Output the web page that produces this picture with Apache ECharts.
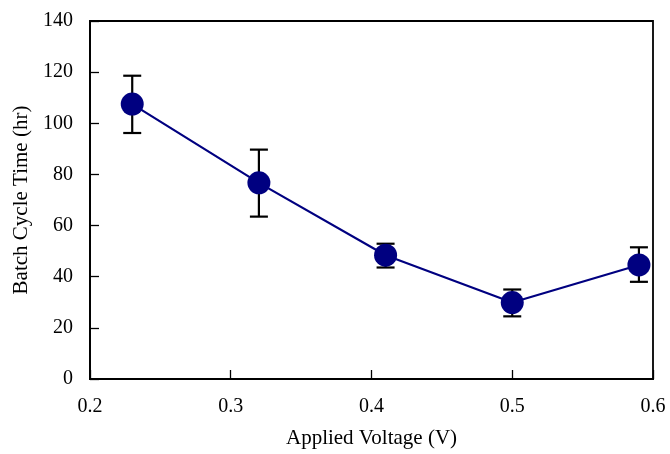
<!DOCTYPE html>
<html>
<head>
<meta charset="utf-8">
<script src="https://cdn.jsdelivr.net/npm/echarts@6/dist/echarts.min.js"></script>
<style>
  html, body { margin: 0; padding: 0; background: #fff; }
  #chart { width: 670px; height: 454px; }
</style>
</head>
<body>
<div id="chart"></div>
<script>
// Applied voltage (V) and measured batch cycle time (hr)
const voltages = [0.23, 0.32, 0.41, 0.50, 0.59];
const cycleTime = [107.5, 76.7, 48.4, 29.9, 44.6];
const errLow = [96.2, 63.5, 43.6, 24.5, 38.0];
const errHigh = [118.6, 89.7, 52.9, 35.0, 51.5];

const FONT = '"Liberation Serif", "Times New Roman", serif';

const points = voltages.map((v, i) => [v, cycleTime[i]]);
const bars = voltages.map((v, i) => [v, errLow[i], errHigh[i]]);

const chart = echarts.init(document.getElementById('chart'));
chart.setOption({
  animation: false,
  backgroundColor: '#ffffff',
  grid: {
    left: 90, right: 17, top: 21, bottom: 74,
    show: true, borderColor: '#000', borderWidth: 1.8, backgroundColor: 'transparent'
  },
  xAxis: {
    type: 'value', min: 0.2, max: 0.6, interval: 0.1,
    name: 'Applied Voltage (V)', nameLocation: 'middle', nameGap: 49,
    nameTextStyle: { fontFamily: FONT, fontSize: 21, color: '#000' },
    axisLine: { show: true, lineStyle: { color: '#000', width: 1.8 } },
    axisTick: { show: true, inside: true, length: 9, lineStyle: { color: '#000', width: 1.3 } },
    axisLabel: { fontFamily: FONT, fontSize: 20, color: '#000', margin: 18,
      formatter: v => v.toFixed(1) },
    splitLine: { show: false }
  },
  yAxis: {
    type: 'value', min: 0, max: 140, interval: 20,
    name: 'Batch Cycle Time (hr)', nameLocation: 'middle', nameGap: 58,
    nameTextStyle: { fontFamily: FONT, fontSize: 21, color: '#000' },
    axisLine: { show: true, lineStyle: { color: '#000', width: 1.8 } },
    axisTick: { show: true, inside: true, length: 9, lineStyle: { color: '#000', width: 1.3 } },
    axisLabel: { fontFamily: FONT, fontSize: 20, color: '#000', margin: 17 },
    splitLine: { show: false }
  },
  series: [
    {
      type: 'custom',
      data: bars,
      z: 1,
      renderItem: (params, api) => {
        const x = api.value(0);
        const lo = api.coord([x, api.value(1)]);
        const hi = api.coord([x, api.value(2)]);
        const half = 9;
        const style = { stroke: '#000', lineWidth: 2.2 };
        return {
          type: 'group',
          children: [
            { type: 'line', shape: { x1: lo[0], y1: lo[1], x2: hi[0], y2: hi[1] }, style },
            { type: 'line', shape: { x1: hi[0] - half, y1: hi[1], x2: hi[0] + half, y2: hi[1] }, style },
            { type: 'line', shape: { x1: lo[0] - half, y1: lo[1], x2: lo[0] + half, y2: lo[1] }, style }
          ]
        };
      }
    },
    {
      type: 'line',
      data: points,
      z: 2,
      symbol: 'circle',
      symbolSize: 23,
      lineStyle: { color: '#000080', width: 2.2 },
      itemStyle: { color: '#000080' }
    }
  ]
});
</script>
</body>
</html>
